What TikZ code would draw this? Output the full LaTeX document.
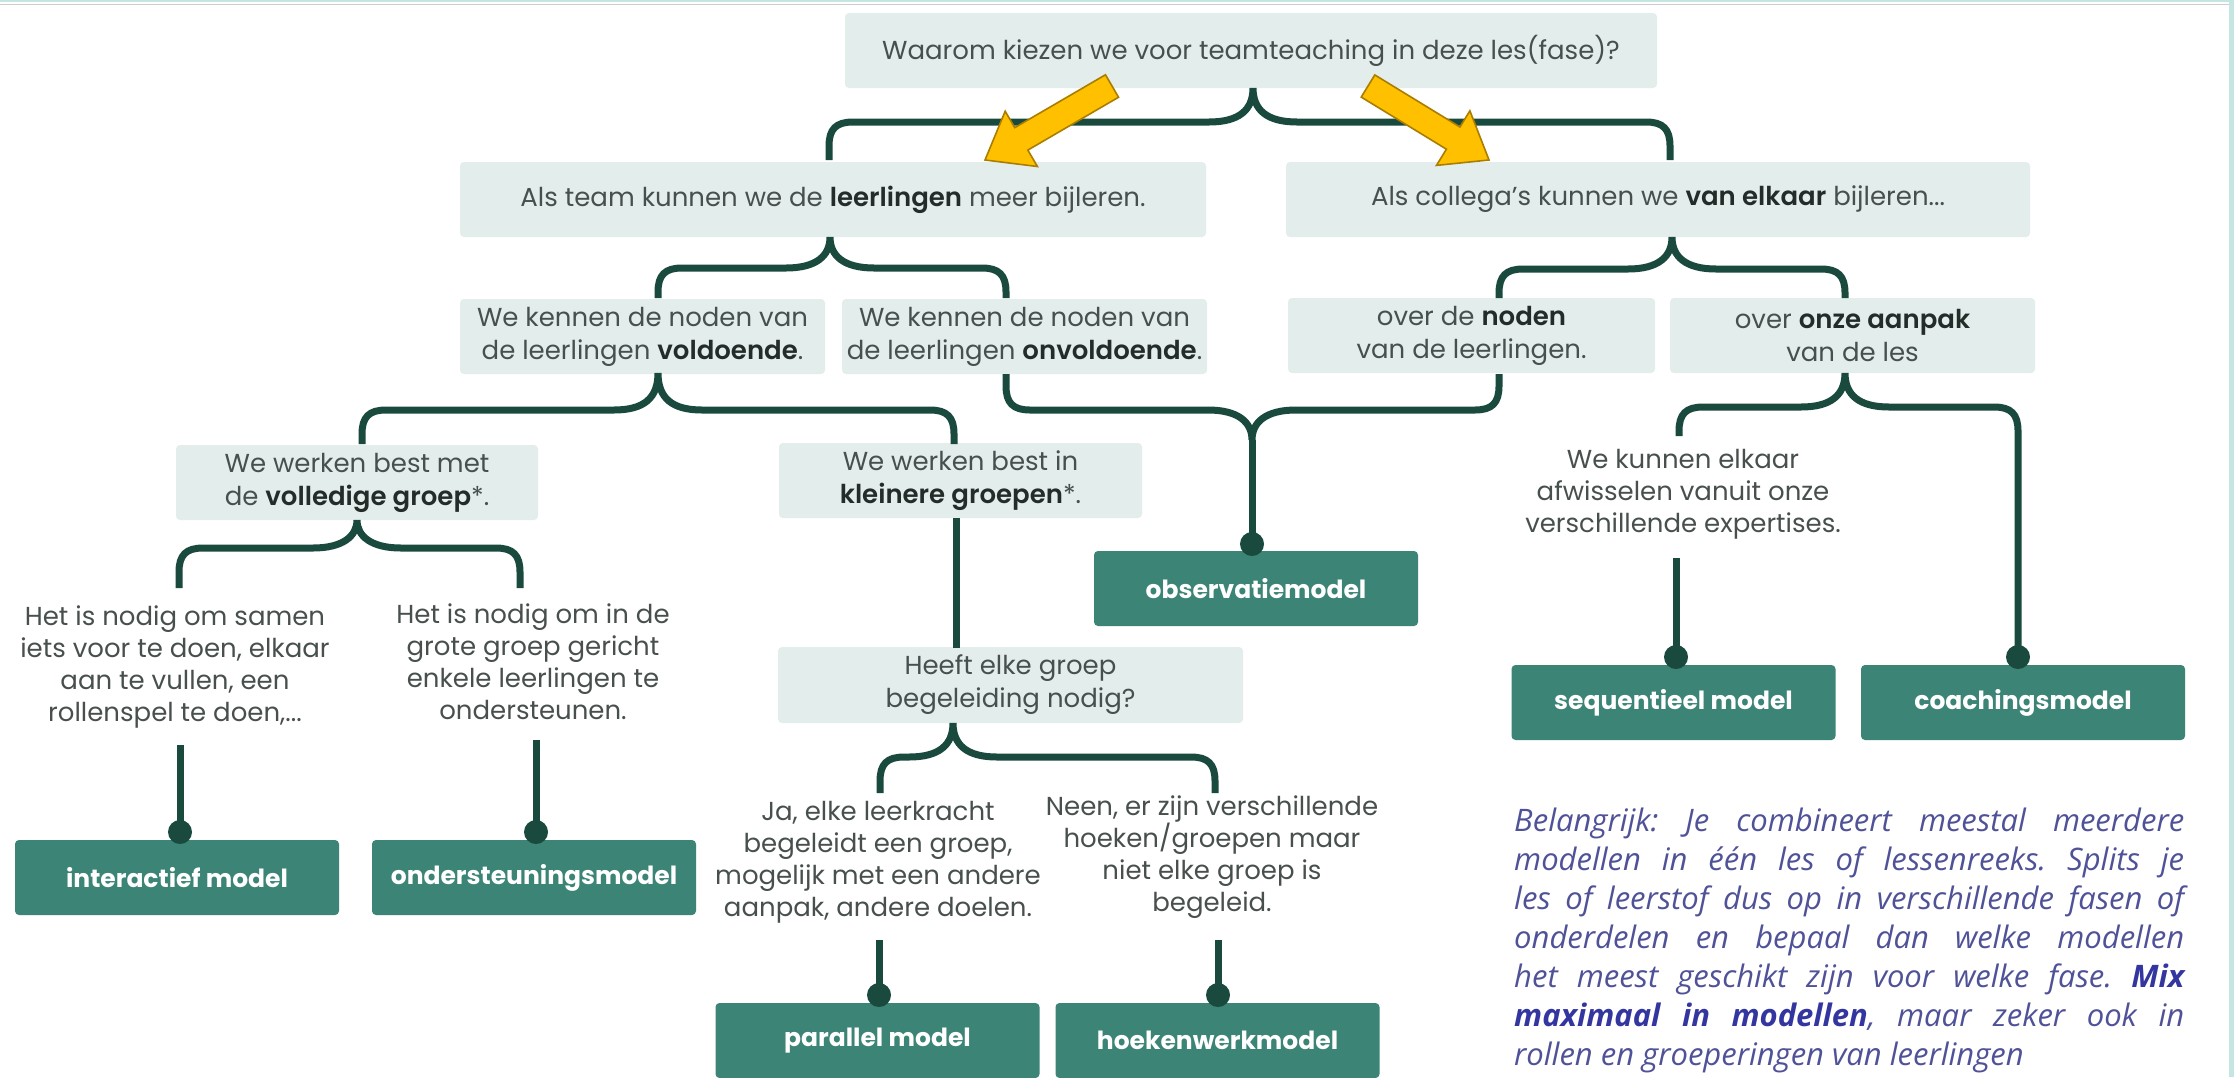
\documentclass[tikz,border=0pt]{standalone}
\usepackage{fontspec}
\setmainfont{Poppins}[BoldFont={Poppins SemiBold}]
\newfontfamily\darkfont{Poppins}
\newfontfamily\notefont{Open Sans}
\usetikzlibrary{calc}
\definecolor{lfill}{RGB}{227,238,236}
\definecolor{dfill}{RGB}{59,132,118}
\definecolor{brc}{RGB}{26,74,62}
\definecolor{txt}{RGB}{72,80,78}
\definecolor{txtb}{RGB}{36,44,42}
\definecolor{note}{RGB}{80,82,152}
\definecolor{noteb}{RGB}{52,54,160}
\definecolor{ygold}{RGB}{255,192,0}
\definecolor{ydark}{RGB}{170,125,0}
\definecolor{edge}{RGB}{197,229,226}
\definecolor{greyline}{RGB}{205,205,205}
\newcommand\hb[1]{\textbf{\color{txtb}#1}}
% brace opening downward: #1 tip, #2 left end, #3 right end, #4 point on horizontal level
\newcommand\dbrace[4]{%
 \draw[brcline] let \p1=(#1),\p2=(#2),\p3=(#3),\p4=(#4) in
 (\p2) -- (\x2,\y4-24pt) .. controls (\x2,\y4-7pt) and (\x2+7pt,\y4) .. (\x2+24pt,\y4)
 -- (\x1-44pt,\y4) .. controls (\x1-14pt,\y4) and (\x1,\y4+12pt) .. (\p1)
 .. controls (\x1,\y4+12pt) and (\x1+14pt,\y4) .. (\x1+44pt,\y4)
 -- (\x3-24pt,\y4) .. controls (\x3-7pt,\y4) and (\x3,\y4-7pt) .. (\x3,\y4-24pt) -- (\p3);}
% brace joining upward ends into one downward tip: #1 tip, #2 left end, #3 right end, #4 level
\newcommand\ubrace[4]{%
 \draw[brcline] let \p1=(#1),\p2=(#2),\p3=(#3),\p4=(#4) in
 (\p2) -- (\x2,\y4+24pt) .. controls (\x2,\y4+7pt) and (\x2+7pt,\y4) .. (\x2+24pt,\y4)
 -- (\x1-44pt,\y4) .. controls (\x1-14pt,\y4) and (\x1,\y4-12pt) .. (\p1)
 .. controls (\x1,\y4-12pt) and (\x1+14pt,\y4) .. (\x1+44pt,\y4)
 -- (\x3-24pt,\y4) .. controls (\x3-7pt,\y4) and (\x3,\y4+7pt) .. (\x3,\y4+24pt) -- (\p3);}
\newcommand\yarrow[2]{%
 \coordinate (hb#1#2) at ($(#2)!42pt!(#1)$);
 \filldraw[fill=ygold,draw=ydark,line width=1.6pt,line join=miter]
 ($(#1)!13pt!90:(#2)$) -- ($(hb#1#2)!13pt!-90:(#1)$) -- ($(hb#1#2)!32pt!-90:(#1)$) -- (#2)
 -- ($(hb#1#2)!32pt!90:(#1)$) -- ($(hb#1#2)!13pt!90:(#1)$) -- ($(#1)!13pt!-90:(#2)$) -- cycle;}
\begin{document}
\begin{tikzpicture}[x=1pt,y=-1pt,
 lbox/.style={fill=lfill, rounded corners=4pt, minimum height=75pt, align=center,
   text=txt, inner sep=0pt, font=\fontsize{26}{33}\selectfont},
 dbox/.style={fill=dfill, rounded corners=4pt, minimum width=324pt, minimum height=75pt,
   text=white, inner sep=0pt, font=\darkfont\bfseries\fontsize{25}{30}\selectfont},
 ftext/.style={align=center, text=txt, inner sep=0pt, font=\fontsize{26}{32}\selectfont},
 brcline/.style={draw=brc, line width=7pt},
 dot/.style={circle, fill=brc, minimum size=24pt, inner sep=0pt}]
\useasboundingbox (0,0) rectangle (2234,1077);
\fill[white] (0,0) rectangle (2234,1077);
\fill[edge] (0,0) rectangle (2234,1.5);
\fill[edge] (2229,0) rectangle (2234,1077);
\draw[greyline, line width=1.5pt] (0,4.5) -- (2229,4.5);

% light boxes
\node[lbox, minimum width=812pt] (top) at (1251,50.5) {Waarom kiezen we voor teamteaching in deze les(fase)?};
\node[lbox, minimum width=746pt] (l1) at (833,199.5) {Als team kunnen we de \hb{leerlingen} meer bijleren.};
\node[lbox, minimum width=744pt] (r1) at (1658,199.5) {Als collega's kunnen we \hb{van elkaar} bijleren...};
\node[lbox, minimum width=365pt] (a) at (642.5,336.5) {We kennen de noden van\\de leerlingen \hb{voldoende}.};
\node[lbox, minimum width=365pt] (b) at (1024.5,336.5) {We kennen de noden van\\de leerlingen \hb{onvoldoende}.};
\node[lbox, minimum width=367pt] (c) at (1471.5,335.5) {over de \hb{noden}\\van de leerlingen.};
\node[lbox, minimum width=365pt] (d) at (1852.5,335.5) {over \hb{onze aanpak}\\van de les};
\node[lbox, minimum width=362pt] (e) at (357,482.5) {We werken best met\\de \hb{volledige groep}*.};
\node[lbox, minimum width=363pt] (f) at (960.5,480.5) {We werken best in\\\hb{kleinere groepen}*.};
\node[lbox, minimum width=465pt, minimum height=76pt] (g) at (1010.5,685) {Heeft elke groep\\begeleiding nodig?};

% dark boxes
\node[dbox] (obs) at (1256,588.5) {observatiemodel};
\node[dbox] (inter) at (177,877.5) {interactief model};
\node[dbox] (onder) at (534,877.5) {ondersteuningsmodel};
\node[dbox] (par) at (877.5,1040.5) {parallel model};
\node[dbox] (hoek) at (1217.5,1040.5) {hoekenwerkmodel};
\node[dbox] (seq) at (1673.5,702.5) {sequentieel model};
\node[dbox] (coach) at (2023,702.5) {coachingsmodel};

% free texts
\node[ftext] (t1) at (175,667) {Het is nodig om samen\\iets voor te doen, elkaar\\aan te vullen, een\\rollenspel te doen,...};
\node[ftext] (t2) at (533,662) {Het is nodig om in de\\grote groep gericht\\enkele leerlingen te\\ondersteunen.};
\node[ftext] (t3) at (878,862) {Ja, elke leerkracht\\begeleidt een groep,\\mogelijk met een andere\\aanpak, andere doelen.};
\node[ftext] (t4) at (1212,857) {Neen, er zijn verschillende\\hoeken/groepen maar\\niet elke groep is\\begeleid.};
\node[ftext] (t5) at (1683,494) {We kunnen elkaar\\afwisselen vanuit onze\\verschillende expertises.};

% dots on the model boxes
\node[dot] (dobs) at (1252,544) {};
\node[dot] (dinter) at (180,832) {};
\node[dot] (donder) at (536,832) {};
\node[dot] (dpar) at (879,995) {};
\node[dot] (dhoek) at (1218,995) {};
\node[dot] (dseq) at (1676,657) {};
\node[dot] (dcoach) at (2018,657) {};

% brace coordinates
\coordinate (k1) at (1253,88);  \coordinate (k1l) at (829,160);  \coordinate (k1r) at (1670,160);  \coordinate (k1h) at (0,122);
\coordinate (k2) at (830,237);  \coordinate (k2l) at (658,298);  \coordinate (k2r) at (1006,298);  \coordinate (k2h) at (0,268);
\coordinate (k3) at (1672,237); \coordinate (k3l) at (1499,298); \coordinate (k3r) at (1845,298); \coordinate (k3h) at (0,269);
\coordinate (k4) at (658,373);  \coordinate (k4l) at (362,444);  \coordinate (k4r) at (954,444);  \coordinate (k4h) at (0,410);
\coordinate (k5) at (1845,373); \coordinate (k5l) at (1679,436); \coordinate (k5h) at (0,407);
\coordinate (k6) at (357,520);  \coordinate (k6l) at (179,588);  \coordinate (k6r) at (520,588);  \coordinate (k6h) at (0,548);
\coordinate (k7) at (953,723);  \coordinate (k7l) at (880,793);  \coordinate (k7r) at (1215,793);  \coordinate (k7h) at (0,757);
\coordinate (k8) at (1252,440); \coordinate (k8l) at (1006,374); \coordinate (k8r) at (1499,374); \coordinate (k8h) at (0,410);
\coordinate (s1) at (180,745);  \coordinate (s2) at (536,740);  \coordinate (s3) at (879,940);
\coordinate (s4) at (1218,940); \coordinate (s5) at (1676,558); \coordinate (s6) at (956,518); \coordinate (s6e) at (956,648);

\dbrace{k1}{k1l}{k1r}{k1h}
\dbrace{k2}{k2l}{k2r}{k2h}
\dbrace{k3}{k3l}{k3r}{k3h}
\dbrace{k4}{k4l}{k4r}{k4h}
\dbrace{k5}{k5l}{dcoach.center}{k5h}
\dbrace{k6}{k6l}{k6r}{k6h}
\dbrace{k7}{k7l}{k7r}{k7h}
\ubrace{k8}{k8l}{k8r}{k8h}
\draw[brcline] (k8) -- (dobs.center);
\draw[brcline] (s1) -- (dinter.center);
\draw[brcline] (s2) -- (donder.center);
\draw[brcline] (s3) -- (dpar.center);
\draw[brcline] (s4) -- (dhoek.center);
\draw[brcline] (s5) -- (dseq.center);
\draw[brcline] (s6) -- (s6e);

% yellow arrows
\coordinate (ya1) at (1112,86); \coordinate (ya2) at (985,160);
\coordinate (yb1) at (1368,86); \coordinate (yb2) at (1489,160);
\yarrow{ya1}{ya2}
\yarrow{yb1}{yb2}

% note
\node[anchor=base west, inner sep=0pt, text=note] (note) at (1514,831) {\parbox[t]{670pt}{\frenchspacing\notefont\itshape\fontsize{31}{39}\selectfont
\makebox[\linewidth][s]{Belangrijk: Je combineert meestal meerdere}\\
\makebox[\linewidth][s]{modellen in één les of lessenreeks. Splits je}\\
\makebox[\linewidth][s]{les of leerstof dus op in verschillende fasen of}\\
\makebox[\linewidth][s]{onderdelen en bepaal dan welke modellen}\\
\makebox[\linewidth][s]{het meest geschikt zijn voor welke fase. \textbf{\color{noteb}Mix}}\\
\makebox[\linewidth][s]{\textbf{\color{noteb}maximaal in modellen}, maar zeker ook in}\\
rollen en groeperingen van leerlingen}};
\end{tikzpicture}
\end{document}
